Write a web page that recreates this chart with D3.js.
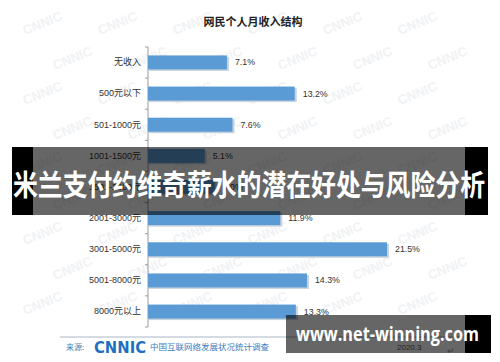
<!DOCTYPE html>
<html>
<head>
<meta charset="utf-8">
<script src="https://cdn.jsdelivr.net/npm/d3@7"></script>
<style>
  body { margin: 0; background: #fff; }
  svg { display: block; font-family: "Noto Sans CJK SC", "Noto Sans", sans-serif; }
</style>
</head>
<body>
<div id="chart"></div>
<script>
// data (1501-2000 is hidden under the banner, estimated)
const categories = ["无收入", "500元以下", "501-1000元", "1001-1500元", "1501-2000元",
  "2001-3000元", "3001-5000元", "5001-8000元", "8000元以上"]
const shares = [7.1, 13.2, 7.6, 5.1, 6.0, 11.9, 21.5, 14.3, 13.3]

const title = "网民个人月收入结构"
const bannerText = "米兰支付约维奇薪水的潜在好处与风险分析"
const siteText = "www.net-winning.com"

const width = 500, height = 362

const svg = d3.select("#chart").append("svg")
  .attr("width", width)
  .attr("height", height)

// faint CNNIC watermark grid, kept inside the picture
const wm = svg.append("g").attr("fill", "#f0f2f4").style("font-size", "13px")
  .style("font-weight", "bold").style("font-family", "Arial, sans-serif")
for (let r = 0; r < 9; r++) {
  for (let c = 0; c < 6; c++) {
    const x = 25 + c * 75 + (r % 2) * 30
    const y = 35 + r * 35
    wm.append("text").attr("x", x).attr("y", y)
      .attr("transform", `rotate(-22,${x},${y})`).text("CNNIC")
  }
}

const x = d3.scaleLinear().domain([0, 21.5]).range([148, 387])
const y = d3.scaleBand().domain(categories).range([47, 327]).paddingInner(0.55).paddingOuter(0.27)

// title
svg.append("text")
  .attr("x", 253).attr("y", 26)
  .attr("text-anchor", "middle")
  .style("font-size", "11px").style("font-weight", "bold").attr("fill", "#222")
  .text(title)

// axis
const axis = svg.append("g").attr("transform", "translate(148,0)")
  .call(d3.axisLeft(y).tickSize(0).tickPadding(7))
axis.select(".domain").attr("stroke", "#9a9a9a").attr("d", "M0,47V327")
axis.selectAll("text").style("font-size", "9px").attr("fill", "#333")
  .style("font-family", "'Liberation Sans', 'Noto Sans CJK SC', sans-serif")
// small boundary ticks
svg.append("g").selectAll("line")
  .data(d3.range(categories.length + 1))
  .join("line")
  .attr("x1", 145).attr("x2", 148)
  .attr("y1", i => 47 + i * (280 / categories.length))
  .attr("y2", i => 47 + i * (280 / categories.length))
  .attr("stroke", "#9a9a9a")

// bar shadows
svg.append("g").selectAll("rect")
  .data(shares)
  .join("rect")
  .attr("x", x(0) + 1)
  .attr("y", (d, i) => y(categories[i]) + 1.5)
  .attr("width", d => x(d) - x(0) + 1)
  .attr("height", y.bandwidth())
  .attr("fill", "#c9d3dd")

// bars
svg.append("g").selectAll("rect")
  .data(shares)
  .join("rect")
  .attr("x", x(0))
  .attr("y", (d, i) => y(categories[i]))
  .attr("width", d => x(d) - x(0))
  .attr("height", y.bandwidth())
  .attr("fill", "#5b9bd5")

// value labels
svg.append("g").selectAll("text")
  .data(shares)
  .join("text")
  .attr("x", d => x(d) + 8)
  .attr("y", (d, i) => y(categories[i]) + y.bandwidth() / 2 + 3)
  .style("font-size", "8.8px").attr("fill", "#333")
  .style("font-family", "'Liberation Sans', Arial, sans-serif")
  .text(d => d.toFixed(1) + "%")

// footer
svg.append("line").attr("x1", 60).attr("x2", 470).attr("y1", 337).attr("y2", 337)
  .attr("stroke", "#a9b7c6")
svg.append("text").attr("x", 66).attr("y", 350).style("font-size", "8px")
  .attr("fill", "#4a7fb0").text("来源:")
svg.append("text").attr("x", 94).attr("y", 353).style("font-size", "16px")
  .style("font-weight", "bold").style("font-family", "'DejaVu Sans', sans-serif")
  .attr("fill", "#1f6fc0").attr("textLength", 52).attr("lengthAdjust", "spacingAndGlyphs")
  .text("CNNIC")
svg.append("text").attr("x", 150).attr("y", 350).style("font-size", "8.5px")
  .attr("fill", "#3b7cc0").text("中国互联网络发展状况统计调查")
svg.append("text").attr("x", 397).attr("y", 350).style("font-size", "8px")
  .style("font-family", "'Liberation Sans', Arial, sans-serif")
  .attr("fill", "#555").text("2020.3")
svg.append("text").attr("x", 447).attr("y", 354).style("font-size", "9px")
  .attr("fill", "#999").text("↵")

// overlay banner
svg.append("rect").attr("x", 12).attr("y", 147).attr("width", 21).attr("height", 68).attr("fill", "#000")
svg.append("rect").attr("x", 465).attr("y", 147).attr("width", 23).attr("height", 68).attr("fill", "#000")
svg.append("rect").attr("x", 33).attr("y", 147).attr("width", 432).attr("height", 68)
  .attr("fill", "#000").attr("fill-opacity", 0.6)
svg.append("text").attr("x", 13).attr("y", 196)
  .style("font-size", "29px").style("font-weight", "bold").attr("fill", "#fff")
  .attr("textLength", 472).attr("lengthAdjust", "spacingAndGlyphs")
  .text(bannerText)

// site banner
svg.append("rect").attr("x", 465).attr("y", 315).attr("width", 26).attr("height", 38).attr("fill", "#000")
svg.append("rect").attr("x", 286).attr("y", 315).attr("width", 179).attr("height", 38)
  .attr("fill", "#000").attr("fill-opacity", 0.6)
svg.append("text").attr("x", 296).attr("y", 341)
  .style("font-size", "20px").style("font-weight", "bold").attr("fill", "#fff")
  .style("font-family", "'Open Sans', 'DejaVu Sans', sans-serif")
  .attr("textLength", 183).attr("lengthAdjust", "spacingAndGlyphs")
  .text(siteText)
</script>
</body>
</html>
